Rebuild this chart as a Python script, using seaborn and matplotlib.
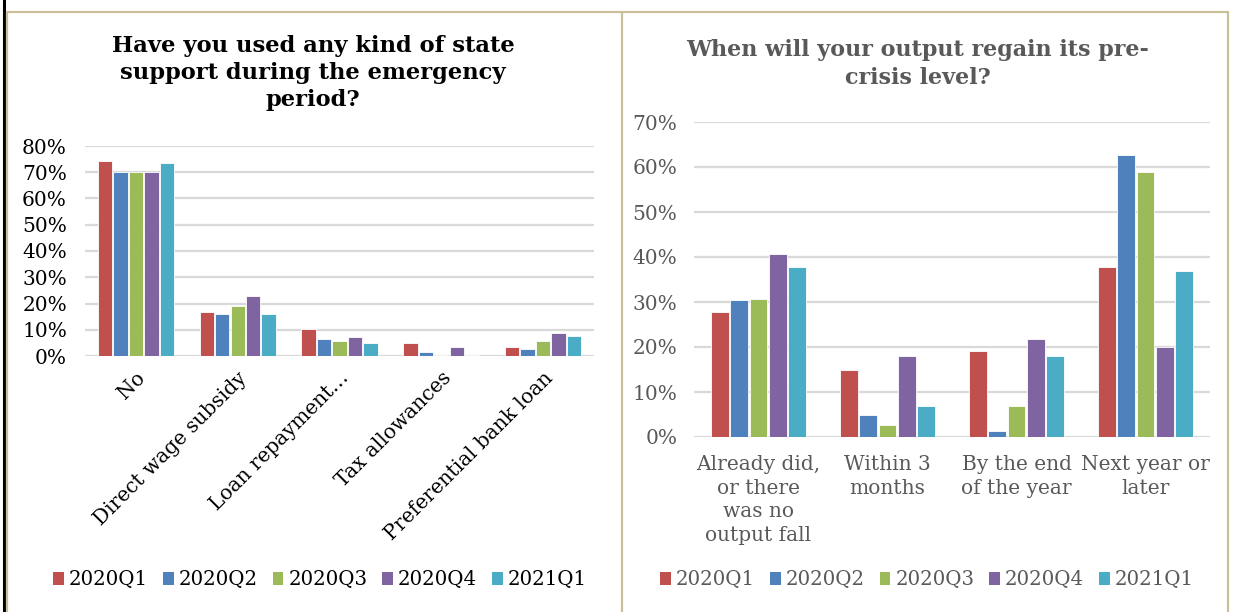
import matplotlib
matplotlib.use("Agg")
import matplotlib.pyplot as plt
from matplotlib.lines import Line2D
from matplotlib.ticker import PercentFormatter
import pandas as pd
import seaborn as sns

# Survey answers, share of respondents per quarter
quarters = ["2020Q1", "2020Q2", "2020Q3", "2020Q4", "2021Q1"]

support_categories = ["No", "Direct wage subsidy", "Loan repayment…",
                      "Tax allowances", "Preferential bank loan"]
support_2020q1 = [0.743, 0.168, 0.101, 0.049, 0.034]
support_2020q2 = [0.700, 0.160, 0.063, 0.014, 0.028]
support_2020q3 = [0.700, 0.189, 0.057, 0.005, 0.057]
support_2020q4 = [0.700, 0.227, 0.071, 0.034, 0.086]
support_2021q1 = [0.736, 0.160, 0.049, 0.005, 0.078]

output_categories = ["Already did,\nor there\nwas no\noutput fall",
                     "Within 3\nmonths", "By the end\nof the year",
                     "Next year or\nlater"]
output_2020q1 = [0.278, 0.148, 0.192, 0.377]
output_2020q2 = [0.304, 0.049, 0.014, 0.627]
output_2020q3 = [0.307, 0.027, 0.070, 0.589]
output_2020q4 = [0.407, 0.179, 0.217, 0.200]
output_2021q1 = [0.377, 0.070, 0.179, 0.368]

palette = ["#C0504D", "#4F81BD", "#9BBB59", "#8064A2", "#4BACC6"]


def long_table(categories, series):
    rows = []
    for q, vals in zip(quarters, series):
        for c, v in zip(categories, vals):
            rows.append({"category": c, "quarter": q, "share": v})
    return pd.DataFrame(rows)


support_df = long_table(support_categories,
                        [support_2020q1, support_2020q2, support_2020q3,
                         support_2020q4, support_2021q1])
output_df = long_table(output_categories,
                       [output_2020q1, output_2020q2, output_2020q3,
                        output_2020q4, output_2021q1])

sns.set_theme(style="white")
plt.rcParams["font.family"] = ["DejaVu Serif"]

W, H = 1255, 612
fig = plt.figure(figsize=(W / 100, H / 100), dpi=100)
fig.patch.set_facecolor("white")


def px_rect(x0, y_top, x1, y_bottom):
    return [x0 / W, 1 - y_bottom / H, (x1 - x0) / W, (y_bottom - y_top) / H]


ax1 = fig.add_axes(px_rect(85, 146, 594, 356))
ax2 = fig.add_axes(px_rect(694, 122, 1210, 437))


def style_axis(ax, ymax, step, color, size):
    ax.set_ylim(0, ymax)
    ax.set_yticks([i * step for i in range(int(round(ymax / step)) + 1)])
    ax.yaxis.set_major_formatter(PercentFormatter(1.0, decimals=0))
    ax.yaxis.grid(True, color="#D9D9D9", linewidth=1.6)
    ax.set_axisbelow(True)
    for s in ax.spines.values():
        s.set_visible(False)
    ax.tick_params(axis="both", length=0, colors=color, labelsize=size)
    ax.set_xlabel("")
    ax.set_ylabel("")


bar_kw = dict(x="category", y="share", hue="quarter", palette=palette,
              saturation=1, gap=0.07, edgecolor="white", linewidth=0.6,
              legend=False)

sns.barplot(data=support_df, width=0.76, ax=ax1, **bar_kw)
style_axis(ax1, 0.8, 0.1, "black", 14.5)
ax1.tick_params(axis="y", pad=13)
ax1.set_xlim(-0.5, len(support_categories) - 0.5)
for lab in ax1.get_xticklabels():
    lab.set_rotation(45)
    lab.set_ha("right")
    lab.set_rotation_mode("anchor")
ax1.tick_params(axis="x", pad=9)

sns.barplot(data=output_df, width=0.75, ax=ax2, **bar_kw)
style_axis(ax2, 0.7, 0.1, "#595959", 14.5)
ax2.tick_params(axis="y", pad=12)
ax2.set_xlim(-0.5, len(output_categories) - 0.5)
for lab in ax2.get_xticklabels():
    lab.set_linespacing(1.3)
ax2.tick_params(axis="x", pad=13)

# Titles
fig.text(313 / W, 1 - 73 / H,
         "Have you used any kind of state\nsupport during the emergency\nperiod?",
         ha="center", va="center", fontsize=16.3, fontweight="bold",
         color="black", linespacing=1.3)
fig.text(918 / W, 1 - 64 / H,
         "When will your output regain its pre-\ncrisis level?",
         ha="center", va="center", fontsize=16, fontweight="bold",
         color="#595959", linespacing=1.3)

# Legends
handles = [plt.Rectangle((0, 0), 1, 1, facecolor=c, edgecolor="none")
           for c in palette]
leg_kw = dict(ncol=5, frameon=False, fontsize=14.2, handlelength=0.55,
              handleheight=0.65, handletextpad=0.25, columnspacing=0.75,
              loc="center")
fig.legend(handles, quarters, bbox_to_anchor=(320 / W, 1 - 580 / H),
           labelcolor="black", **leg_kw)
fig.legend(handles, quarters, bbox_to_anchor=(927 / W, 1 - 580 / H),
           labelcolor="#595959", **leg_kw)

# Panel frames
tan = "#C9C09A"
frame_lines = [
    ((4 / W, 4 / W), (0, 1), "black", 2.2),
    ((6.5 / W, 6.5 / W), (0, 1 - 12 / H), tan, 1.6),
    ((6.5 / W, 1228 / W), (1 - 12 / H, 1 - 12 / H), tan, 1.6),
    ((622 / W, 622 / W), (0, 1 - 12 / H), tan, 1.6),
    ((1228 / W, 1228 / W), (0, 1 - 12 / H), tan, 1.6),
]
for xs, ys, col, lw in frame_lines:
    fig.add_artist(Line2D(xs, ys, transform=fig.transFigure, color=col,
                          linewidth=lw))

fig.savefig("out.png", dpi=100, facecolor="white")
